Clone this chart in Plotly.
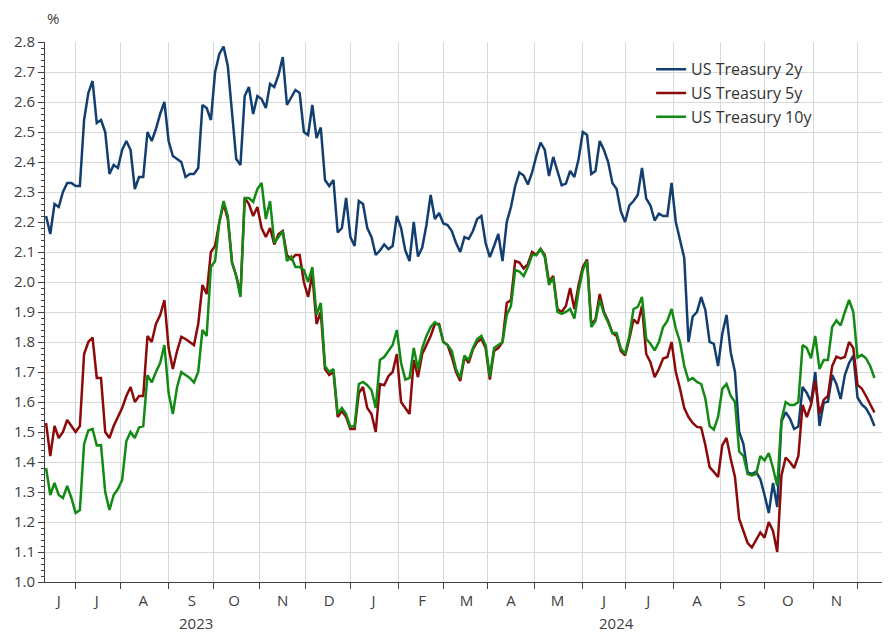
import pandas as pd
import plotly.graph_objects as go

# yields read every second business day, starting 13 Jun 2023
us_2y = [
    2.22, 2.16, 2.26, 2.25, 2.30, 2.33, 2.33, 2.32, 2.32, 2.54,
    2.63, 2.67, 2.53, 2.54, 2.50, 2.36, 2.39, 2.38, 2.44, 2.47,
    2.44, 2.31, 2.35, 2.35, 2.50, 2.47, 2.51, 2.56, 2.60, 2.47,
    2.42, 2.41, 2.40, 2.35, 2.36, 2.36, 2.38, 2.59, 2.58, 2.54,
    2.70, 2.76, 2.785, 2.72, 2.55, 2.41, 2.39, 2.62, 2.65, 2.56,
    2.62, 2.61, 2.58, 2.66, 2.65, 2.69, 2.75, 2.59, 2.615, 2.64,
    2.63, 2.50, 2.49, 2.59, 2.48, 2.515, 2.34, 2.32, 2.34, 2.165,
    2.18, 2.28, 2.15, 2.12, 2.27, 2.26, 2.18, 2.15, 2.09, 2.105,
    2.125, 2.11, 2.12, 2.22, 2.18, 2.105, 2.07, 2.20, 2.085, 2.115,
    2.19, 2.29, 2.21, 2.23, 2.195, 2.19, 2.17, 2.13, 2.10, 2.15,
    2.144, 2.17, 2.21, 2.22, 2.13, 2.083, 2.12, 2.16, 2.07, 2.20,
    2.25, 2.32, 2.365, 2.355, 2.325, 2.365, 2.42, 2.465, 2.44, 2.353,
    2.417, 2.37, 2.322, 2.328, 2.37, 2.35, 2.41, 2.50, 2.49, 2.36,
    2.37, 2.47, 2.44, 2.40, 2.33, 2.31, 2.235, 2.20, 2.255, 2.27,
    2.29, 2.38, 2.278, 2.255, 2.205, 2.228, 2.22, 2.22, 2.33, 2.20,
    2.135, 2.08, 1.80, 1.885, 1.90, 1.95, 1.906, 1.80, 1.794, 1.72,
    1.828, 1.89, 1.765, 1.70, 1.50, 1.46, 1.365, 1.36, 1.368, 1.343,
    1.29, 1.23, 1.33, 1.25, 1.535, 1.566, 1.545, 1.51, 1.518, 1.65,
    1.63, 1.60, 1.70, 1.52, 1.597, 1.601, 1.69, 1.66, 1.61, 1.69,
    1.73, 1.755, 1.615, 1.592, 1.579, 1.555, 1.52,
]
us_5y = [
    1.53, 1.42, 1.52, 1.48, 1.50, 1.54, 1.52, 1.50, 1.52, 1.76,
    1.80, 1.815, 1.68, 1.68, 1.50, 1.48, 1.52, 1.55, 1.58, 1.62,
    1.65, 1.60, 1.62, 1.62, 1.82, 1.80, 1.86, 1.89, 1.94, 1.78,
    1.71, 1.77, 1.817, 1.81, 1.80, 1.79, 1.86, 1.99, 1.96, 2.10,
    2.12, 2.20, 2.26, 2.21, 2.065, 2.02, 1.96, 2.28, 2.26, 2.22,
    2.25, 2.18, 2.15, 2.18, 2.125, 2.16, 2.17, 2.09, 2.075, 2.09,
    2.09, 2.00, 1.95, 2.025, 1.86, 1.90, 1.71, 1.69, 1.70, 1.55,
    1.57, 1.55, 1.51, 1.51, 1.63, 1.65, 1.58, 1.56, 1.50, 1.66,
    1.656, 1.686, 1.70, 1.76, 1.60, 1.58, 1.56, 1.74, 1.683, 1.76,
    1.79, 1.82, 1.86, 1.86, 1.80, 1.79, 1.75, 1.70, 1.67, 1.75,
    1.73, 1.775, 1.80, 1.81, 1.78, 1.675, 1.77, 1.78, 1.80, 1.93,
    1.94, 2.07, 2.065, 2.045, 2.06, 2.10, 2.09, 2.11, 2.09, 2.00,
    2.02, 1.91, 1.90, 1.92, 1.98, 1.91, 1.99, 2.05, 2.075, 1.86,
    1.875, 1.96, 1.90, 1.87, 1.83, 1.82, 1.77, 1.755, 1.81, 1.875,
    1.861, 1.92, 1.76, 1.733, 1.683, 1.71, 1.745, 1.75, 1.80, 1.70,
    1.644, 1.58, 1.55, 1.53, 1.517, 1.515, 1.456, 1.383, 1.367, 1.35,
    1.456, 1.48, 1.41, 1.35, 1.21, 1.17, 1.13, 1.115, 1.14, 1.165,
    1.148, 1.20, 1.17, 1.10, 1.355, 1.415, 1.40, 1.38, 1.42, 1.59,
    1.55, 1.59, 1.67, 1.56, 1.607, 1.62, 1.72, 1.751, 1.745, 1.75,
    1.80, 1.78, 1.657, 1.645, 1.62, 1.595, 1.565,
]
us_10y = [
    1.38, 1.29, 1.33, 1.29, 1.28, 1.32, 1.28, 1.23, 1.24, 1.46,
    1.505, 1.51, 1.455, 1.456, 1.30, 1.24, 1.29, 1.31, 1.34, 1.47,
    1.50, 1.48, 1.515, 1.52, 1.69, 1.665, 1.70, 1.73, 1.79, 1.63,
    1.56, 1.65, 1.70, 1.69, 1.68, 1.665, 1.70, 1.84, 1.82, 2.05,
    2.07, 2.20, 2.27, 2.22, 2.065, 2.02, 1.95, 2.28, 2.28, 2.267,
    2.31, 2.33, 2.21, 2.27, 2.13, 2.15, 2.17, 2.07, 2.085, 2.05,
    2.05, 2.04, 2.00, 2.05, 1.89, 1.93, 1.72, 1.70, 1.71, 1.56,
    1.58, 1.56, 1.517, 1.52, 1.66, 1.667, 1.656, 1.64, 1.58, 1.74,
    1.75, 1.77, 1.79, 1.84, 1.73, 1.675, 1.68, 1.78, 1.71, 1.78,
    1.82, 1.85, 1.866, 1.855, 1.80, 1.79, 1.77, 1.71, 1.68, 1.755,
    1.74, 1.78, 1.81, 1.82, 1.79, 1.685, 1.78, 1.79, 1.80, 1.89,
    1.92, 2.04, 2.035, 2.02, 2.05, 2.09, 2.09, 2.11, 2.083, 1.99,
    2.015, 1.90, 1.894, 1.90, 1.91, 1.878, 1.97, 2.04, 2.07, 1.85,
    1.87, 1.94, 1.895, 1.865, 1.83, 1.83, 1.778, 1.76, 1.82, 1.91,
    1.917, 1.95, 1.811, 1.794, 1.772, 1.80, 1.85, 1.87, 1.91, 1.845,
    1.80, 1.72, 1.672, 1.68, 1.667, 1.66, 1.611, 1.52, 1.508, 1.55,
    1.644, 1.66, 1.62, 1.60, 1.435, 1.42, 1.36, 1.355, 1.36, 1.42,
    1.405, 1.43, 1.38, 1.32, 1.54, 1.60, 1.59, 1.59, 1.60, 1.79,
    1.78, 1.746, 1.82, 1.71, 1.74, 1.74, 1.85, 1.872, 1.855, 1.90,
    1.94, 1.90, 1.748, 1.757, 1.746, 1.72, 1.68,
]

month_letters = ["J", "J", "A", "S", "O", "N", "D", "J", "F",
                 "M", "A", "M", "J", "J", "A", "S", "O", "N"]
years = ["2023", "2024"]


def next_bday(d):
    # weekend dates fall inside the rangebreak, push them to monday
    return d if d.weekday() < 5 else d + pd.offsets.BDay(1)


dates = pd.date_range("2023-06-13", periods=len(us_2y), freq="2B")
month_starts = [next_bday(d) for d in pd.date_range("2023-07-01", "2024-12-01", freq="MS")]
mids = pd.date_range("2023-07-01", "2024-11-01", freq="MS") + pd.Timedelta(days=15)
label_pos = [pd.Timestamp("2023-06-21")] + [next_bday(d) for d in mids]

series = [
    ("US Treasury 2y", us_2y, "#123f70"),
    ("US Treasury 5y", us_5y, "#8c0a0a"),
    ("US Treasury 10y", us_10y, "#138a13"),
]

fig = go.Figure()
for name, vals, col in series:
    fig.add_trace(go.Scatter(x=dates, y=vals, name=name, mode="lines",
                             line=dict(color=col, width=2.5)))

# page body has an 8px margin, so the figure is 8px smaller than the window
font = "Open Sans, DejaVu Sans, sans-serif"
fig.update_layout(
    width=882, height=624,
    margin=dict(l=37, r=2, t=34, b=50),
    plot_bgcolor="white", paper_bgcolor="white",
    font=dict(family=font, size=15, color="#404040"),
    showlegend=True,
    legend=dict(x=0.719, y=0.981, xanchor="left", yanchor="top",
                bgcolor="rgba(0,0,0,0)", font=dict(size=16, color="#333333"),
                itemwidth=30, tracegroupgap=0),
    xaxis=dict(
        type="date", automargin=False,
        range=["2023-06-12 12:00", "2024-12-20 10:00"],
        rangebreaks=[dict(bounds=["sat", "mon"])],
        tickmode="array", tickvals=label_pos, ticktext=month_letters,
        ticks="", ticklabelstandoff=5,
        showgrid=False, showline=True, linecolor="#404040", linewidth=1,
        tickfont=dict(size=15, color="#404040"),
        minor=dict(tickmode="array", tickvals=month_starts, ticks="outside",
                   ticklen=6, tickcolor="#404040", showgrid=True,
                   gridcolor="#d3d9dd", gridwidth=1),
        zeroline=False,
    ),
    yaxis=dict(
        range=[1.0, 2.8], dtick=0.1, tick0=1.0, tickformat=".1f", automargin=False,
        ticks="outside", ticklen=6, tickcolor="#404040",
        showline=True, linecolor="#404040", linewidth=1,
        showgrid=True, gridcolor="#d9d9d9", gridwidth=1,
        minor=dict(dtick=0.02, ticks="outside", ticklen=3, tickcolor="#404040",
                   showgrid=False),
        zeroline=False,
        tickfont=dict(size=15, color="#404040"),
    ),
)

fig.add_annotation(text="%", xref="paper", yref="paper", x=0, y=1,
                   xanchor="left", yanchor="middle", xshift=0, yshift=24,
                   showarrow=False, font=dict(size=15, color="#404040"))
for yr, pos in zip(years, ["2023-09-20", "2024-06-25"]):
    fig.add_annotation(text=yr, x=pos, xref="x", yref="paper", y=0,
                       yanchor="middle", yshift=-41, showarrow=False,
                       font=dict(size=15, color="#404040"))

fig.write_html("out.html")
